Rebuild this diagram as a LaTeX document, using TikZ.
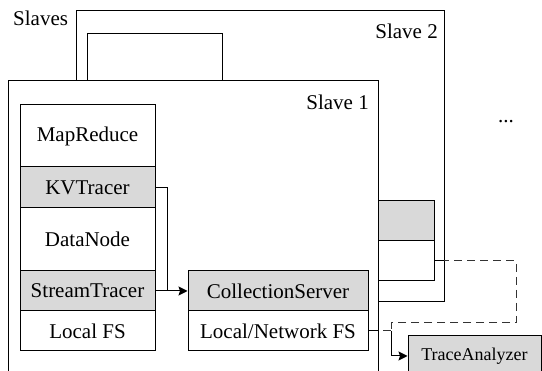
\documentclass[tikz,border=0pt]{standalone}
\usepackage{fontspec}
\setmainfont{Liberation Serif}
\usetikzlibrary{arrows.meta}
\begin{document}
\begin{tikzpicture}[x=1pt,y=-1pt,
  frame/.style={draw=black,fill=white,line width=1pt},
  lbl/.style={inner sep=0pt,font=\fontsize{21}{24}\selectfont},
  box/.style={draw=black,line width=1pt,inner sep=0pt,font=\fontsize{21}{24}\selectfont},
  graybox/.style={box,fill=black!15},
  whitebox/.style={box,fill=white},
  lcol/.style={minimum width=135pt},
  rcol/.style={minimum width=180pt},
  scol/.style={minimum width=56pt},
  conn/.style={line width=1pt},
  arr/.style={conn,-{Stealth[length=9pt,width=9pt,inset=1.5pt]}},
  dsh/.style={conn,dash pattern=on 8pt off 5pt,draw=black!80}
]
\clip (0,0) rectangle (542,371);
\fill[white] (0,0) rectangle (542,371);
% slave frames
\draw[frame] (76,11) rectangle (444,302);
\draw[frame] (87,34) rectangle (222,120);
\draw[frame] (8,81) rectangle (378,400);
% labels
\node[lbl,anchor=west] (slaves) at (13,18) {Slaves};
\node[lbl,anchor=east] (slave2) at (438,31) {Slave 2};
\node[lbl,anchor=east] (slave1) at (369,102) {Slave 1};
\node[lbl] (dots) at (506,122) {...};
% left stack
\node[whitebox,lcol,minimum height=62pt] (mr) at (87.5,136) {MapReduce};
\node[graybox,lcol,minimum height=41pt] (kv) at (87.5,187.5) {KVTracer};
\node[whitebox,lcol,minimum height=63pt] (dn) at (87.5,239.5) {DataNode};
\node[graybox,lcol,minimum height=40pt] (st) at (87.5,291) {StreamTracer};
\node[whitebox,lcol,minimum height=40pt] (lfs) at (87.5,331) {Local FS};
% right stack
\node[graybox,rcol,minimum height=40pt] (cs) at (278,291) {CollectionServer};
\node[whitebox,rcol,minimum height=40pt] (lnfs) at (278,331) {Local/Network FS};
% slave 2 stack
\node[graybox,scol,minimum height=40pt] (s2a) at (406,221) {};
\node[whitebox,scol,minimum height=40pt] (s2b) at (406,261) {};
% trace analyzer
\node[graybox,minimum width=133pt,minimum height=40pt,font=\fontsize{18}{21}\selectfont] (ta) at (474.5,356) {TraceAnalyzer};
% connectors
\coordinate (j) at (167,291);
\draw[conn] (kv.east) -| (j);
\draw[arr] (st.east) -- (cs.west);
\coordinate (d1) at (444,261);
\coordinate (d2) at (516,261);
\coordinate (d3) at (516,323);
\coordinate (d4) at (391,323);
\coordinate (d5) at (391,331);
\draw[conn] (s2b.east) -- (d1);
\draw[dsh,dash phase=3pt] (d1) -- (d2) -- (d3) -- (d4) -- (d5);
\coordinate (e1) at (378,331);
\draw[conn] (lnfs.east) -- (e1);
\draw[dsh] (e1) ++(5,0) -- (d5);
\draw[arr] (d5) |- (ta.west);
\end{tikzpicture}
\end{document}
